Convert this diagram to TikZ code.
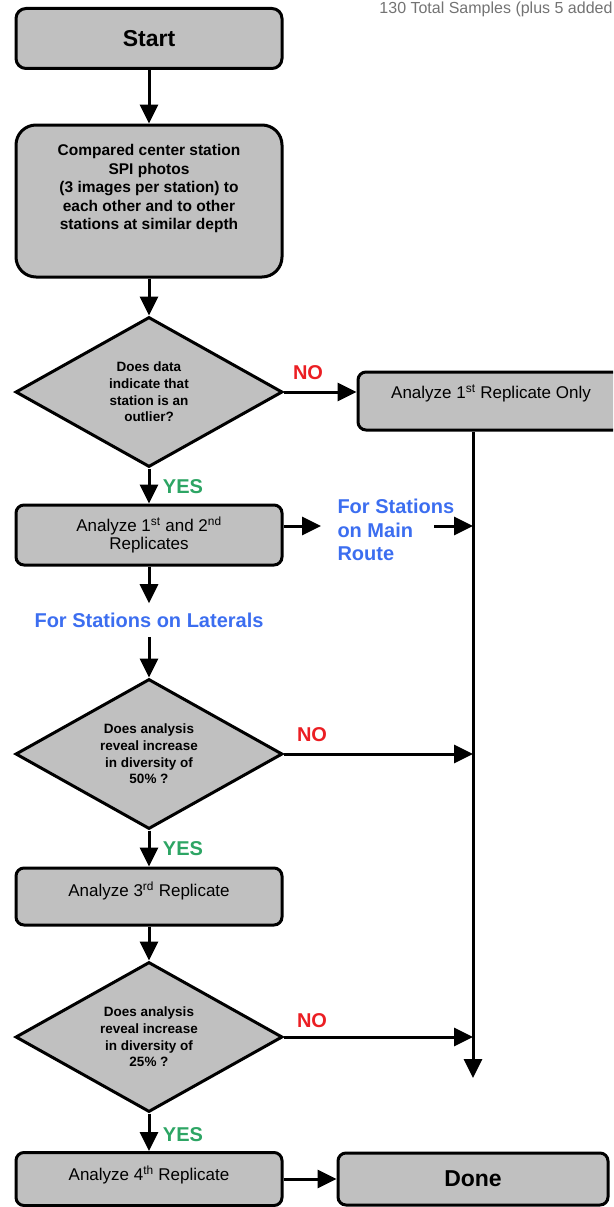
\documentclass[tikz,border=0pt]{standalone}
\usepackage{fontspec}
\setmainfont{Liberation Sans}
\usetikzlibrary{shapes.geometric,arrows.meta}
\definecolor{boxgray}{RGB}{192,192,192}
\definecolor{nored}{RGB}{235,30,35}
\definecolor{yesgreen}{RGB}{45,165,100}
\definecolor{routeblue}{RGB}{60,110,240}

\begin{document}
\begin{tikzpicture}[>={Triangle[length=19pt,width=18pt]}, x=1pt, y=-1pt, line width=3pt]
        \tikzset{box/.style={draw, fill=boxgray, rounded corners=8pt, minimum width=266pt, minimum height=58pt, align=center, font=\fontsize{17}{18}\selectfont},
          decision/.style={diamond, aspect=1.78, draw, fill=boxgray, minimum width=267pt, minimum height=150pt, inner sep=0pt, align=center, font=\bfseries\fontsize{13.5}{16.7}\selectfont},
          no/.style={text=nored, font=\bfseries\fontsize{20}{24}\selectfont},
          yes/.style={text=yesgreen, font=\bfseries\fontsize{20}{24}\selectfont},
          route/.style={text=routeblue, font=\bfseries\fontsize{20}{23.3}\selectfont}}
        \useasboundingbox (0,0) rectangle (613,1207);
        \clip (0,0) rectangle (613,1207);

        \node[anchor=base east, inner sep=0pt, text=black!55, font=\fontsize{16}{19}\selectfont] (total) at (614,14) {130 Total Samples (plus 5 added};

        \node[box, minimum height=60pt, rounded corners=10pt, font=\bfseries\fontsize{23}{27}\selectfont] (start) at (149,38.5) {Start};
        \node[box, minimum height=152pt, rounded corners=20pt, text depth=28pt, font=\bfseries\fontsize{15.5}{18.5}\selectfont] (compare) at (149,201) {Compared center station\\SPI photos\\(3 images per station) to\\each other and to other\\stations at similar depth};
        \node[decision] (outlier) at (149,392) {Does data\\indicate that\\station is an\\outlier?};
        \node[box, text depth=19pt] (first) at (491,401) {Analyze 1\textsuperscript{st} Replicate Only};
        \node[no] (no1) at (308,373) {NO};
        \node[yes] (yes1) at (183,487) {YES};
        \node[box, minimum height=60pt] (both) at (149,535) {Analyze 1\textsuperscript{st} and 2\textsuperscript{nd}\\Replicates};
        \node[route, anchor=west, align=left, inner sep=0pt] (mainroute) at (336,530) {For Stations\\on Main\\Route};
        \node[route, inner ysep=8pt] (laterals) at (149,620) {For Stations on Laterals};
        \node[decision] (half) at (149,754) {Does analysis\\reveal increase\\in diversity of\\50\% ?};
        \node[no] (no2) at (312,735) {NO};
        \node[yes] (yes2) at (183,849) {YES};
        \node[box, minimum height=57pt, text depth=14pt] (third) at (149,896.5) {Analyze 3\textsuperscript{rd} Replicate};
        \node[decision] (quarter) at (149,1037) {Does analysis\\reveal increase\\in diversity of\\25\% ?};
        \node[no] (no3) at (312,1021) {NO};
        \node[yes] (yes3) at (183,1135) {YES};
        \node[box, minimum height=53pt, text depth=12pt] (fourth) at (149,1179) {Analyze 4\textsuperscript{th} Replicate};
        \node[box, minimum width=270pt, minimum height=52pt, font=\bfseries\fontsize{23}{27}\selectfont] (done) at (473,1179) {Done};

        \coordinate (mainin) at (321,526);
        \coordinate (mainout) at (434,526);
        \coordinate (spineend) at (473,1078);

        \draw[->] (start) -- (compare);
        \draw[->] (compare) -- (outlier);
        \draw[->] (outlier.east) -- (outlier.east -| first.west);
        \draw[->] (outlier) -- (both);
        \draw[->] (first.south -| spineend) -- (spineend);
        \draw[->] (both.east |- mainin) -- (mainin);
        \draw[->] (mainout) -- (mainout -| spineend);
        \draw[->] (both) -- (laterals);
        \draw[->] (laterals) -- (half);
        \draw[->] (half.east) -- (half.east -| spineend);
        \draw[->] (half) -- (third);
        \draw[->] (third) -- (quarter);
        \draw[->] (quarter.east) -- (quarter.east -| spineend);
        \draw[->] (quarter) -- (fourth);
        \draw[->] (fourth) -- (done);
    \end{tikzpicture}
\end{document}
